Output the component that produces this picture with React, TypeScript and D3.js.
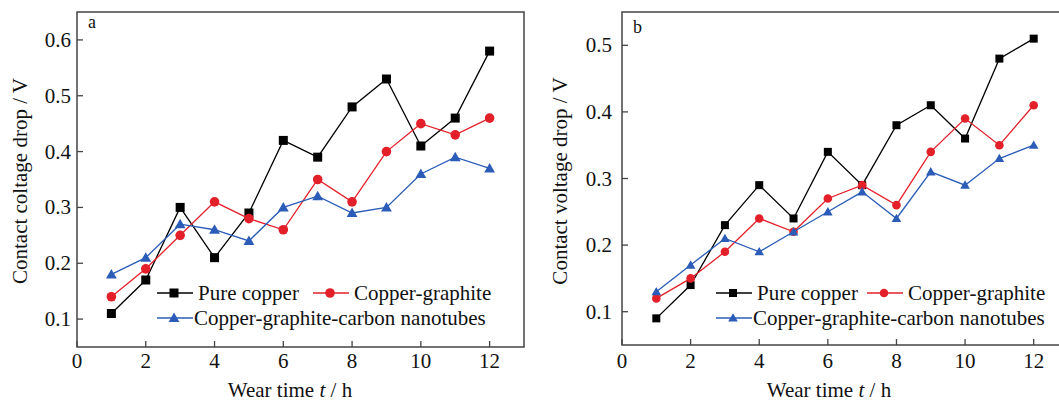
import React from 'react';
import * as d3 from 'd3';

const hours = [1, 2, 3, 4, 5, 6, 7, 8, 9, 10, 11, 12];
const xTicks = [0, 2, 4, 6, 8, 10, 12];

// panel a
const pureA = [0.11, 0.17, 0.30, 0.21, 0.29, 0.42, 0.39, 0.48, 0.53, 0.41, 0.46, 0.58];
const graphiteA = [0.14, 0.19, 0.25, 0.31, 0.28, 0.26, 0.35, 0.31, 0.40, 0.45, 0.43, 0.46];
const cntA = [0.18, 0.21, 0.27, 0.26, 0.24, 0.30, 0.32, 0.29, 0.30, 0.36, 0.39, 0.37];
const yTicksA = [0.1, 0.2, 0.3, 0.4, 0.5, 0.6];

// panel b
const pureB = [0.09, 0.14, 0.23, 0.29, 0.24, 0.34, 0.29, 0.38, 0.41, 0.36, 0.48, 0.51];
const graphiteB = [0.12, 0.15, 0.19, 0.24, 0.22, 0.27, 0.29, 0.26, 0.34, 0.39, 0.35, 0.41];
const cntB = [0.13, 0.17, 0.21, 0.19, 0.22, 0.25, 0.28, 0.24, 0.31, 0.29, 0.33, 0.35];
const yTicksB = [0.1, 0.2, 0.3, 0.4, 0.5];

const seriesNames = ['Pure copper', 'Copper-graphite', 'Copper-graphite-carbon nanotubes'];
const colors = ['#000000', '#e3202a', '#2a5cb8'];
const shapes = ['square', 'circle', 'triangle'];

const font = '"Liberation Serif", "Times New Roman", serif';
const txt = '#111';
const fs = 21;

const Marker = ({ shape, x, y, color, s }) => {
  if (shape === 'square') return <rect x={x - s / 2} y={y - s / 2} width={s} height={s} fill={color} />;
  if (shape === 'circle') return <circle cx={x} cy={y} r={s / 2 + 0.3} fill={color} />;
  return <path d={`M${x},${y - s * 0.6}L${x + s * 0.6},${y + s * 0.45}L${x - s * 0.6},${y + s * 0.45}Z`} fill={color} />;
};

const Panel = ({ p }) => {
  const x = d3.scaleLinear().domain([0, 13]).range([p.left, p.right]);
  const y = d3.scaleLinear().domain(p.yDomain).range([p.bottom, p.top]);
  const line = d3.line().x((d, i) => x(hours[i])).y(d => y(d));
  const data = [p.pure, p.graphite, p.cnt];

  return (
    <g fontFamily={font} fill={txt}>
      {data.map((vals, k) => (
        <g key={k}>
          <path d={line(vals)} fill="none" stroke={colors[k]} strokeWidth={1.3} />
          {vals.map((v, i) => (
            <Marker key={i} shape={shapes[k]} x={x(hours[i])} y={y(v)} color={colors[k]} s={p.ms} />
          ))}
        </g>
      ))}

      <rect x={p.left} y={p.top} width={p.right - p.left} height={p.bottom - p.top}
        fill="none" stroke="#444" strokeWidth={1.5} />

      {xTicks.map(t => (
        <g key={t}>
          <line x1={x(t)} x2={x(t)} y1={p.bottom} y2={p.bottom - 6} stroke="#444" strokeWidth={1.3} />
          <text x={x(t)} y={368} textAnchor="middle" fontSize={fs}>{t}</text>
        </g>
      ))}
      {p.yTicks.map(t => (
        <g key={t}>
          <line x1={p.left} x2={p.left + 6} y1={y(t)} y2={y(t)} stroke="#444" strokeWidth={1.3} />
          <text x={p.left - p.tickGap} y={y(t) + 7} textAnchor="end" fontSize={fs}>{t.toFixed(1)}</text>
        </g>
      ))}

      <text x={p.xTitleX} y={397} textAnchor="middle" fontSize={fs}>
        Wear time <tspan fontStyle="italic">t</tspan> / h
      </text>
      <text transform={`translate(${p.yTitleX},181) rotate(-90)`} textAnchor="middle" fontSize={fs}>
        {p.yTitle}
      </text>
      <text x={p.labelX} y={p.labelY} fontSize={18}>{p.label}</text>

      {/* legend */}
      {[[0, p.legX, 293], [1, p.legX2, 293], [2, p.legX, 318]].map(([k, lx, ly]) => (
        <g key={k}>
          <line x1={lx} x2={lx + 36} y1={ly} y2={ly} stroke={colors[k]} strokeWidth={1.3} />
          <Marker shape={shapes[k]} x={lx + 17} y={ly} color={colors[k]} s={p.ms} />
          <text x={lx + 37 + (k === 2 ? 0 : 4)} y={ly + 7} fontSize={fs}>{seriesNames[k]}</text>
        </g>
      ))}
    </g>
  );
};

const panels = [
  {
    left: 77, right: 524, top: 12, bottom: 347, yDomain: [0.05, 0.65], yTicks: yTicksA,
    pure: pureA, graphite: graphiteA, cnt: cntA, ms: 9, tickGap: 6,
    xTitleX: 290, yTitleX: 27, yTitle: 'Contact coltage drop / V',
    label: 'a', labelX: 88, labelY: 28, legX: 157, legX2: 313,
  },
  {
    left: 622, right: 1068, top: 12, bottom: 345, yDomain: [0.05, 0.55], yTicks: yTicksB,
    pure: pureB, graphite: graphiteB, cnt: cntB, ms: 8, tickGap: 10,
    xTitleX: 829, yTitleX: 567, yTitle: 'Contact voltage drop / V',
    label: 'b', labelX: 633, labelY: 33, legX: 716, legX2: 867,
  },
];

export default function App() {
  return (
    <svg width={1059} height={402} style={{ position: 'absolute', left: 0, top: 0, background: '#fff' }}>
      {panels.map((p, i) => <Panel key={i} p={p} />)}
    </svg>
  );
}
